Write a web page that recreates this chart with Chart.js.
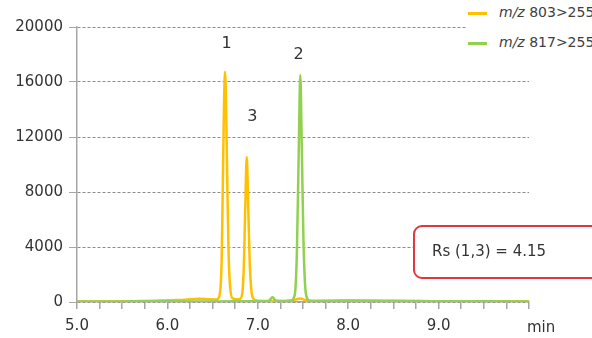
<html>
  <head>
    <title>Chromatogram</title>
    <script src="https://cdn.jsdelivr.net/npm/chart.js@4.4.1/dist/chart.umd.min.js"></script>
    <style>
      body { margin: 0; background: #fff; font-family: "DejaVu Sans", sans-serif; }
      .wrap { position: relative; width: 592px; height: 338px; overflow: hidden; }
      .legend {
        position: absolute; left: 466px; top: 0; width: 126px; height: 56px;
        background: #fff; font-size: 14px; color: #404040;
      }
      .legend .item { position: absolute; left: 2px; height: 16px; white-space: nowrap; }
      .legend .swatch { position: absolute; left: 0; top: 7px; width: 19px; height: 3px; }
      .legend .txt { position: absolute; left: 31px; top: -1px; }
      .rsbox {
        position: absolute; left: 413px; top: 225px; width: 200px; height: 50px;
        border: 2px solid #e0383c; border-radius: 9px; background: #fff;
        font-size: 15px; color: #333;
      }
      .rsbox span { position: absolute; left: 17px; top: 15px; white-space: nowrap; }
      .unit { position: absolute; left: 527px; top: 318px; font-size: 15px; color: #333; }
    </style>
  </head>
  <body>
    <div class="wrap">
      <canvas id="chrom" width="592" height="338"></canvas>
      <div class="legend">
        <div class="item" style="top: 5px;"><div class="swatch" style="background:#FFC000"></div><span class="txt"><i>m/z</i> 803&gt;255</span></div>
        <div class="item" style="top: 35px;"><div class="swatch" style="background:#92D050"></div><span class="txt"><i>m/z</i> 817&gt;255</span></div>
      </div>
      <div class="rsbox"><span>Rs (1,3) = 4.15</span></div>
      <div class="unit">min</div>
    </div>

    <script>
      // retention time (min) and intensity
      var timeA = [5.0, 5.5, 5.9, 6.0, 6.2, 6.35, 6.45, 6.52, 6.55, 6.58, 6.600, 6.612, 6.624, 6.637, 6.650, 6.663, 6.677, 6.695, 6.725, 6.76,
                   6.80, 6.825, 6.845, 6.86, 6.878, 6.894, 6.91, 6.928, 6.95, 6.99, 7.2, 7.4, 7.47, 7.55, 8.0, 8.5, 9.0, 9.5, 10.0];
      var intensityA = [40, 50, 80, 120, 160, 230, 200, 180, 200, 600, 3000, 8000, 13500, 16750, 14000, 8500, 3500, 1000, 250, 200,
                        220, 500, 2500, 6500, 10550, 7000, 3000, 900, 250, 100, 80, 150, 250, 100, 120, 80, 60, 50, 50];

      var timeB = [5.0, 5.5, 5.92, 6.0, 6.5, 7.0, 7.12, 7.163, 7.2, 7.3, 7.36, 7.408, 7.432, 7.453, 7.470, 7.486, 7.505, 7.532, 7.575,
                   7.8, 8.0, 8.5, 9.0, 9.5, 10.0];
      var intensityB = [30, 40, 90, 60, 40, 60, 80, 350, 90, 60, 80, 500, 3500, 11000, 16500, 11500, 4500, 600, 80,
                        50, 80, 100, 60, 50, 40];

      var seriesNames = ['m/z 803>255', 'm/z 817>255'];
      var seriesColors = ['#FFC000', '#92D050'];

      // peak numbers
      var peakLabels = ['1', '3', '2'];
      var peakLabelTimes = [6.656, 6.94, 7.45];
      var peakLabelValues = [18760, 13450, 17960];

      var yTicks = [0, 4000, 8000, 12000, 16000, 20000];

      function toPoints(xs, ys) {
        return xs.map(function (x, i) { return { x: x, y: ys[i] }; });
      }

      var peakLabelPlugin = {
        id: 'peakLabels',
        afterDatasetsDraw: function (chart) {
          var ctx = chart.ctx;
          var sx = chart.scales.x, sy = chart.scales.y;
          ctx.save();
          ctx.font = '16px "DejaVu Sans"';
          ctx.fillStyle = '#333';
          ctx.textAlign = 'center';
          ctx.textBaseline = 'middle';
          peakLabels.forEach(function (t, i) {
            ctx.fillText(t, sx.getPixelForValue(peakLabelTimes[i]), sy.getPixelForValue(peakLabelValues[i]));
          });
          ctx.restore();
        }
      };

      new Chart(document.getElementById('chrom'), {
        type: 'line',
        data: {
          datasets: [
            { label: seriesNames[0], data: toPoints(timeA, intensityA), borderColor: seriesColors[0], borderWidth: 2.5,
              pointRadius: 0, cubicInterpolationMode: 'monotone', fill: false, order: 1 },
            { label: seriesNames[1], data: toPoints(timeB, intensityB), borderColor: seriesColors[1], borderWidth: 2.5,
              pointRadius: 0, cubicInterpolationMode: 'monotone', fill: false, order: 0 }
          ]
        },
        options: {
          responsive: false,
          animation: false,
          devicePixelRatio: 1,
          layout: { padding: { left: 0, right: 63, top: 27, bottom: 0 } },
          plugins: { legend: { display: false }, tooltip: { enabled: false } },
          scales: {
            x: {
              type: 'linear', min: 5, max: 10,
              afterFit: function (s) { s.height = 36; },
              border: { color: '#a6a6a6', width: 1.5 },
              grid: { drawOnChartArea: false, drawTicks: true, tickLength: 7, color: '#a6a6a6', lineWidth: 1.5 },
              ticks: {
                stepSize: 0.25, autoSkip: false, maxRotation: 0, padding: 8,
                color: '#333', font: { family: 'DejaVu Sans', size: 15 },
                callback: function (v) { return (Number.isInteger(v) && v < 10) ? v.toFixed(1) : ''; }
              }
            },
            y: {
              min: 0, max: 20000,
              afterFit: function (s) { s.width = 77; },
              afterBuildTicks: function (s) { s.ticks = yTicks.map(function (v) { return { value: v }; }); },
              border: { color: '#a6a6a6', width: 1.5, dash: [3, 2] },
              grid: { color: '#8c8c8c', lineWidth: 1, tickLength: 8, tickColor: '#a6a6a6', tickBorderDash: [] },
              ticks: {
                padding: 6, color: '#333', font: { family: 'DejaVu Sans', size: 15 },
                callback: function (v) { return String(v); }
              }
            }
          }
        },
        plugins: [peakLabelPlugin]
      });
    </script>
  </body>
</html>
